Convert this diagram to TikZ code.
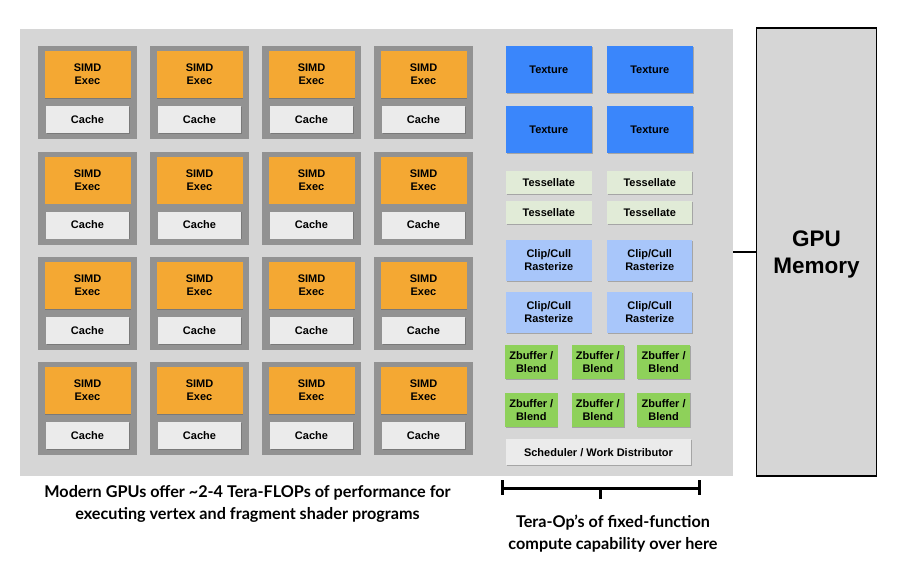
\documentclass[tikz,border=0pt]{standalone}
\usepackage{fontspec}
\setmainfont{Liberation Sans}
\newfontfamily\capfont{Lato}
\usetikzlibrary{shadows}
\definecolor{bgg}{HTML}{D6D6D6}
\definecolor{tileg}{HTML}{929292}
\definecolor{simdc}{HTML}{F4A833}
\definecolor{cachec}{HTML}{EBEBEB}
\definecolor{texc}{HTML}{3A86FB}
\definecolor{tessc}{HTML}{E1EBD7}
\definecolor{clipc}{HTML}{A8C6FA}
\definecolor{zbc}{HTML}{8ED15A}
\tikzset{
  blk/.style={draw=none, rectangle, inner sep=0pt, align=center,
    font=\bfseries\fontsize{11}{12.8}\selectfont,
    drop shadow={shadow xshift=0.8pt, shadow yshift=-0.8pt, opacity=0.35, fill=black!70}},
  tilebox/.style={draw=none, fill=tileg, minimum width=99pt, minimum height=93pt, inner sep=0pt},
  simdbox/.style={blk, fill=simdc, minimum width=86pt, minimum height=47pt},
  cachebox/.style={blk, fill=cachec, minimum width=83pt, minimum height=27pt},
  texbox/.style={blk, fill=texc, minimum width=86pt, minimum height=47pt},
  tessbox/.style={blk, fill=tessc, minimum width=85.5pt, minimum height=23pt},
  clipbox/.style={blk, fill=clipc, minimum width=85.5pt, minimum height=41pt},
  zbbox/.style={blk, fill=zbc, minimum width=52.5pt, minimum height=34.3pt},
  schedbox/.style={blk, fill=cachec, minimum width=185pt, minimum height=26pt},
  captext/.style={align=center, font=\capfont\bfseries\fontsize{16.2}{22}\selectfont},
  brk/.style={line width=3pt, black}
}
\begin{document}
\begin{tikzpicture}[x=1pt, y=-1pt]
\useasboundingbox (0,0) rectangle (912,562);
\fill[white] (0,0) rectangle (912,562);
% background panel
\node[fill=bgg, draw=none, inner sep=0pt, minimum width=713pt, minimum height=447pt] (panel) at (376.5,252.5) {};
% GPU memory
\node[fill=bgg, draw=black, line width=1.6pt, inner sep=0pt, minimum width=120pt, minimum height=448pt,
  align=center, font=\bfseries\fontsize{22.5}{27}\selectfont] (mem) at (816.5,252) {};
\node[align=center, font=\bfseries\fontsize{22.5}{27}\selectfont, inner sep=0pt] (memtext) at (816.5,254.5) {GPU\\Memory};
\coordinate (link) at (733,252);
\draw[line width=1.6pt] (link) -- (link -| mem.west);
% core tiles
\foreach \c/\x in {1/38,2/150,3/262,4/374}{
  \foreach \r/\y in {1/46,2/151.5,3/257,4/362}{
    \node[tilebox] (tile-\r-\c) at (\x+49.5,\y+46.5) {};
    \node[simdbox] (simd-\r-\c) at (\x+49.5,\y+28.5) {SIMD\\Exec};
    \node[cachebox] (cache-\r-\c) at (\x+49.5,\y+73.5) {Cache};
  }
}
% fixed function units
\foreach \i/\x in {1/548.8,2/649.7}{
  \node[texbox] (tex-1-\i) at (\x,69.7) {Texture};
  \node[texbox] (tex-2-\i) at (\x,129.5) {Texture};
  \node[tessbox] (tess-1-\i) at (\x,182.5) {Tessellate};
  \node[tessbox] (tess-2-\i) at (\x,212.5) {Tessellate};
  \node[clipbox] (clip-1-\i) at (\x,260.3) {Clip/Cull\\Rasterize};
  \node[clipbox] (clip-2-\i) at (\x,312.3) {Clip/Cull\\Rasterize};
}
\foreach \i/\x in {1/531.3,2/597.8,3/663.6}{
  \node[zbbox] (zb-1-\i) at (\x,362.2) {Zbuffer /\\Blend};
  \node[zbbox] (zb-2-\i) at (\x,409.7) {Zbuffer /\\Blend};
}
\node[schedbox] (sched) at (598.5,452.3) {Scheduler / Work Distributor};
% bracket
\coordinate (bl) at (502,488.3);
\coordinate (br) at (699,488.3);
\coordinate (bm) at (600.5,488.3);
\draw[brk] (bl) -- (br);
\draw[brk] ([yshift=8pt]bl) -- ([yshift=-7pt]bl);
\draw[brk] ([yshift=8pt]br) -- ([yshift=-7pt]br);
\draw[brk] (bm) -- ([yshift=-11pt]bm);
% captions
\node[captext] (cap1) at (247.5,503.5) {Modern GPUs offer \textasciitilde2-4 Tera-FLOPs of performance for\\executing vertex and fragment shader programs};
\node[captext] (cap2) at (613,534) {Tera-Op’s of fixed-function\\compute capability over here};
\end{tikzpicture}
\end{document}
